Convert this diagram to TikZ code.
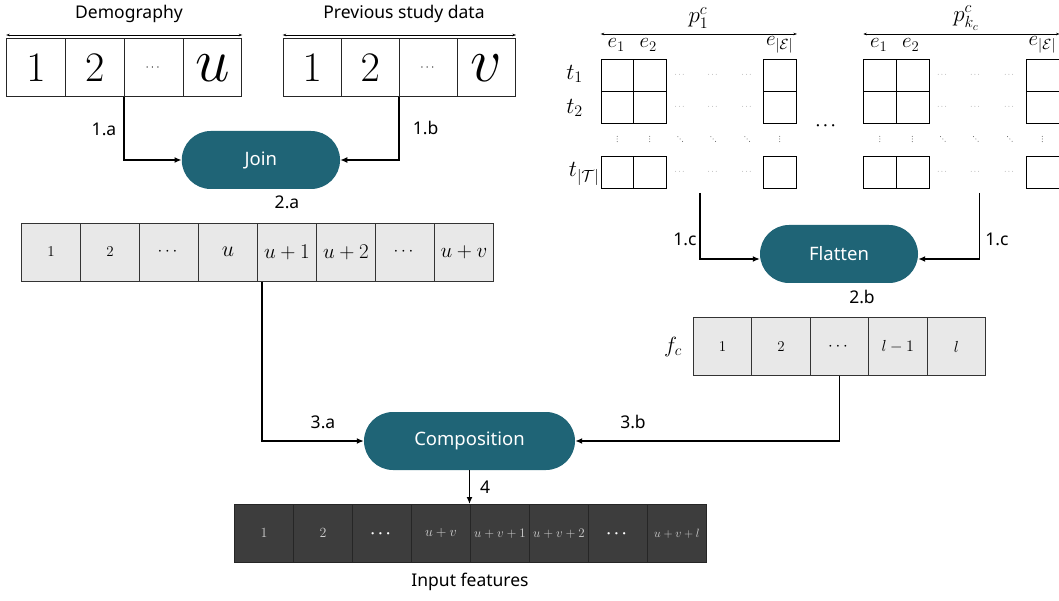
\RequirePackage{fix-cm}
\documentclass[tikz,border=0pt]{standalone}
\usepackage{amsmath}
\usepackage{fontspec}
\newfontfamily\labfont{Noto Sans}
\usetikzlibrary{arrows.meta,shapes.misc}
\definecolor{proccol}{HTML}{1F6476}
\definecolor{lightcell}{HTML}{E8E8E8}
\definecolor{darkcell}{HTML}{3D3D3D}
\definecolor{darktext}{HTML}{CFCFCF}
\tikzset{
  lbl/.style={font=\labfont\fontsize{17.5}{17.5}\selectfont},
  proc/.style={rounded rectangle, fill=proccol, text=white, minimum height=58pt,
    inner sep=0pt, font=\labfont\fontsize{18.5}{18.5}\selectfont},
  conn/.style={-{Latex[length=7pt,width=6pt]}, line width=1.6pt},
  dimline/.style={{Stealth[length=3.5pt,width=2.5pt]}-{Stealth[length=3.5pt,width=2.5pt]}, line width=0.6pt},
  bigcell/.style={draw=black!85, line width=0.9pt, anchor=north west, inner sep=0pt,
    minimum height=58pt, font=\fontsize{42}{42}\selectfont},
  graycell/.style={draw=black!80, fill=lightcell, line width=0.9pt, anchor=north west,
    inner sep=0pt, minimum height=58pt},
  blackcell/.style={draw=black!85, fill=darkcell, text=darktext, line width=0.9pt,
    anchor=north west, inner sep=0pt, minimum width=59pt, minimum height=58pt},
  mcell/.style={draw=black, line width=1pt, anchor=north west, inner sep=0pt,
    minimum width=32.65pt, minimum height=32pt},
  mdots/.style={text=black!70, inner sep=0pt, font=\fontsize{7}{7}\selectfont},
  mlab/.style={inner sep=0pt, font=\fontsize{23}{23}\selectfont},
  elab/.style={inner sep=0pt, font=\fontsize{21}{21}\selectfont},
  dotcol/.style={fill=black!65},
}
\begin{document}
\begin{tikzpicture}[x=1pt,y=-1pt]
\useasboundingbox (0,0) rectangle (1059,601);

% ---- raw inputs: demography and previous study data ----
\node[lbl] (demolab) at (129,14) {Demography};
\node[lbl] (prevlab) at (404,14) {Previous study data};
\foreach \t [count=\i] in {$1$,$2$,{\fontsize{12}{12}\selectfont$\cdots$},{\fontsize{62}{62}\selectfont$u$}}
  \node[bigcell, minimum width=58.8pt] (d\i) at ({6.2+58.8*(\i-1)},38.3) {\t};
\foreach \t [count=\i] in {$1$,$2$,{\fontsize{12}{12}\selectfont$\cdots$},{\fontsize{62}{62}\selectfont$v$}}
  \node[bigcell, minimum width=58.1pt] (p\i) at ({282.7+58.1*(\i-1)},38.3) {\t};
\draw[dimline] ([yshift=3.3pt]d1.north west) -- ([yshift=3.3pt]d4.north east);
\draw[dimline] ([yshift=3.3pt]p1.north west) -- ([yshift=3.3pt]p4.north east);

% ---- join step ----
\node[proc, minimum width=158.3pt] (join) at (260.9,160) {Join};
\draw[conn] (d3.south west) |- (join.west);
\draw[conn] (p3.south west) |- (join.east);
\node[lbl] (l1a) at (104,129) {1.a};
\node[lbl] (l1b) at (425.7,128.3) {1.b};
\node[lbl] (l2a) at (287,202.7) {2.a};

% ---- joined vector ----
\foreach \t [count=\i] in {{\fontsize{15}{15}\selectfont$1$},{\fontsize{15}{15}\selectfont$2$},
    {\fontsize{17}{17}\selectfont$\cdots$},{\fontsize{22}{22}\selectfont$u$},
    {\fontsize{21}{21}\selectfont$u+1$},{\fontsize{21}{21}\selectfont$u+2$},
    {\fontsize{17}{17}\selectfont$\cdots$},{\fontsize{21}{21}\selectfont$u+v$}}
  \node[graycell, minimum width=59pt] (j\i) at ({21+59*(\i-1)},222.7) {\t};

% ---- matrices p_1^c ... p_{k_c}^c ----
\foreach \ox/\m in {600.7/a, 863.3/b} {
  \foreach \c/\cx in {1/0, 2/32.65, 3/162.6}
    \foreach \r/\ry in {1/59, 2/91, 3/155.7}
      \node[mcell] (\m\c\r) at ({\ox+\cx},\ry) {};
  \foreach \k/\dx in {1/79.5, 2/112.5, 3/146.5} {
    \node[mdots] (\m h1\k) at ({\ox+\dx},75) {$\cdots$};
    \node[mdots] (\m h2\k) at ({\ox+\dx},107) {$\cdots$};
    \node[mdots] (\m h3\k) at ({\ox+\dx},171.7) {$\cdots$};
    % diagonal dots
    \foreach \s in {-1,0,1}
      \fill[dotcol] ({\ox+\dx+2.3*\s},{139+2.3*\s}) circle (0.5pt);
  }
  % vertical dots
  \foreach \dx in {16.5, 49, 179}
    \foreach \s in {-1,0,1}
      \fill[dotcol] ({\ox+\dx},{139+2.6*\s}) circle (0.5pt);
  \node[elab] (\m e1) at ({\ox+15.5},45) {$e_1$};
  \node[elab] (\m e2) at ({\ox+47.5},45) {$e_2$};
  \node[elab] (\m e3) at ({\ox+179},45) {$e_{|\mathcal{E}|}$};
  \draw[dimline] ([yshift=25pt]\m11.north west) -- ([yshift=25pt]\m31.north east);
}
\node[mlab] (pfirst) at (698.4,18) {$p^c_1$};
\node[mlab] (plast) at (966,18) {$p^c_{k_c}$};
\node[mlab] (t1) at (574.5,74) {$t_1$};
\node[mlab] (t2) at (574.5,108) {$t_2$};
\node[mlab, anchor=east] (tT) at (599.5,174) {$t_{|\mathcal{T}|}$};
\node[inner sep=0pt, font=\fontsize{15}{15}\selectfont] (mid) at (827,126) {$\boldsymbol{\cdots}$};

% ---- flatten step ----
\node[proc, minimum width=158pt] (flat) at (839,254) {Flatten};
\coordinate (aout) at (700,193);
\coordinate (bout) at (979.3,193);
\draw[conn] (aout) |- ([yshift=-5pt]flat.west);
\draw[conn] (bout) |- ([yshift=-5pt]flat.east);
\node[lbl] (l1c) at (685,239) {1.c};
\node[lbl] (l1cc) at (997,239) {1.c};
\node[lbl] (l2b) at (862,297) {2.b};

% ---- flattened vector f_c ----
\node[inner sep=0pt, font=\fontsize{22}{22}\selectfont] (fclab) at (673,347) {$f_c$};
\foreach \t [count=\i] in {{\fontsize{15}{15}\selectfont$1$},{\fontsize{15}{15}\selectfont$2$},
    {\fontsize{17}{17}\selectfont$\cdots$},{\fontsize{16}{16}\selectfont$l-1$},
    {\fontsize{16}{16}\selectfont$l$}}
  \node[graycell, minimum width=58.4pt] (f\i) at ({693+58.4*(\i-1)},317.3) {\t};

% ---- composition ----
\node[proc, minimum width=211pt] (comp) at (469.5,441) {Composition};
\draw[conn] ([xshift=5pt]j5.south west) |- (comp.west);
\draw[conn] (f3.south) |- (comp.east);
\node[lbl] (l3a) at (323,422) {3.a};
\node[lbl] (l3b) at (633,422) {3.b};

% ---- input features ----
\foreach \t [count=\i] in {{\fontsize{14}{14}\selectfont$1$},{\fontsize{14}{14}\selectfont$2$},
    {\color{white}\fontsize{15}{15}\selectfont$\boldsymbol{\cdots}$},{\fontsize{14}{14}\selectfont$u+v$},
    {\fontsize{13}{13}\selectfont$u+v+1$},{\fontsize{13}{13}\selectfont$u+v+2$},
    {\color{white}\fontsize{15}{15}\selectfont$\boldsymbol{\cdots}$},{\fontsize{12}{12}\selectfont$u+v+l$}}
  \node[blackcell] (r\i) at ({234+59*(\i-1)},504) {\t};
\draw[conn] (comp.south) -- (comp.south |- r5.north);
\node[lbl] (l4) at (485,487) {4};
\node[lbl] (inlab) at (470,582) {Input features};
\end{tikzpicture}
\end{document}
